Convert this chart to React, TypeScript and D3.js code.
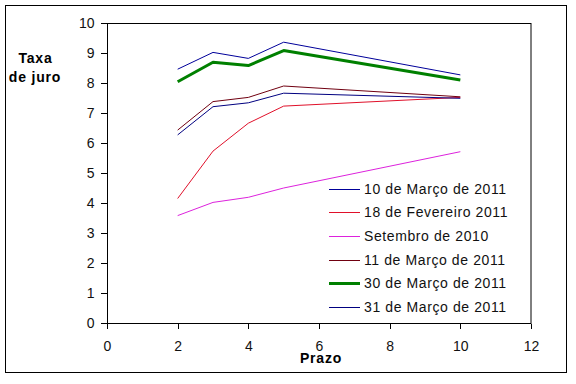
import React, { useEffect, useRef } from 'react';
import * as d3 from 'd3';

// prazo (anos) e taxas
const prazos = [2, 3, 4, 5, 10];
const marco10 = [8.46, 9.02, 8.82, 9.36, 8.27];
const fev18 = [4.15, 5.73, 6.66, 7.23, 7.52];
const set2010 = [3.58, 4.02, 4.19, 4.5, 5.71];
const marco11 = [6.43, 7.38, 7.52, 7.9, 7.54];
const marco30 = [8.04, 8.69, 8.58, 9.08, 8.1];
const marco31 = [6.27, 7.21, 7.34, 7.66, 7.49];

const seriesNames = [
  '10 de Março de 2011',
  '18 de Fevereiro 2011',
  'Setembro de 2010',
  '11 de Março de 2011',
  '30 de Março de 2011',
  '31 de Março de 2011',
];
const seriesColors = ['#00009a', '#e0102a', '#dd22dd', '#700010', '#008000', '#000080'];
const seriesWidths = [1, 1, 1, 1, 3, 1];

const xTicks = [0, 2, 4, 6, 8, 10, 12];
const yTicks = [0, 1, 2, 3, 4, 5, 6, 7, 8, 9, 10];

const W = 576;
const H = 384;
const FONT = 'Arial, "Liberation Sans", sans-serif';

export default function App() {
  const svgRef = useRef<SVGSVGElement>(null);

  useEffect(() => {
    const svg = d3.select(svgRef.current);
    svg.selectAll('*').remove();

    const values = [marco10, fev18, set2010, marco11, marco30, marco31];
    const left = 107, right = 531, top = 23, bottom = 323;

    const x = d3.scaleLinear().domain([0, 12]).range([left, right]);
    const y = d3.scaleLinear().domain([0, 10]).range([bottom, top]);

    svg.append('rect')
      .attr('x', 5.5).attr('y', 5.5)
      .attr('width', 561).attr('height', 367)
      .attr('fill', 'white').attr('stroke', 'black');

    // moldura da área do gráfico
    svg.append('rect')
      .attr('x', left + 0.5).attr('y', top + 0.5)
      .attr('width', right - left - 0.5).attr('height', bottom - top)
      .attr('fill', 'none').attr('stroke', 'black');

    const yAxis = svg.append('g')
      .attr('transform', `translate(${left + 0.5},0)`)
      .call(d3.axisLeft(y).tickValues(yTicks).tickSize(7).tickPadding(6).tickFormat(d3.format('d')));
    const xAxis = svg.append('g')
      .attr('transform', `translate(0,${bottom + 0.5})`)
      .call(d3.axisBottom(x).tickValues(xTicks).tickSize(5).tickPadding(13).tickFormat(d3.format('d')));

    [yAxis, xAxis].forEach(a => {
      a.select('.domain').remove();
      a.selectAll('line').attr('stroke', 'black').attr('shape-rendering', 'crispEdges');
      a.selectAll('text')
        .attr('font-family', FONT)
        .attr('font-size', 14)
        .attr('fill', '#111');
    });

    const line = d3.line<number>()
      .x((d, i) => x(prazos[i]))
      .y(d => y(d));

    values.forEach((vals, k) => {
      svg.append('path')
        .datum(vals)
        .attr('d', line)
        .attr('fill', 'none')
        .attr('stroke', seriesColors[k])
        .attr('stroke-width', seriesWidths[k])
        .attr('stroke-linejoin', 'round');
    });

    // legenda
    const leg = svg.append('g');
    seriesNames.forEach((name, k) => {
      const cy = 188.5 + k * 23.7;
      leg.append('line')
        .attr('x1', 329).attr('x2', 360)
        .attr('y1', Math.round(cy) + 0.5).attr('y2', Math.round(cy) + 0.5)
        .attr('stroke', seriesColors[k])
        .attr('stroke-width', seriesWidths[k]);
      leg.append('text')
        .attr('x', 364).attr('y', cy + 5)
        .attr('font-family', FONT)
        .attr('font-size', 14)
        .attr('letter-spacing', 0.6)
        .attr('fill', '#111')
        .text(name);
    });

    // títulos dos eixos
    const title = (txt: string, tx: number, ty: number) =>
      svg.append('text')
        .attr('x', tx).attr('y', ty)
        .attr('text-anchor', 'middle')
        .attr('font-family', FONT)
        .attr('font-size', 14)
        .attr('font-weight', 'bold')
        .attr('letter-spacing', 0.8)
        .text(txt);
    title('Taxa', 35.5, 63);
    title('de juro', 35, 82);
    title('Prazo', 321, 363);
  }, []);

  return (
    <svg
      ref={svgRef}
      width={W}
      height={H}
      style={{ position: 'absolute', left: 0, top: 0, background: 'white' }}
    />
  );
}
